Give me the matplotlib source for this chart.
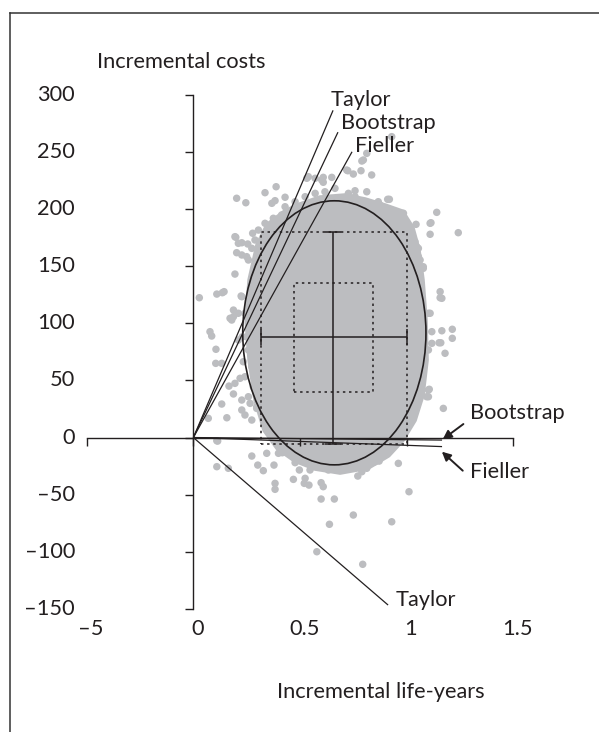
import matplotlib
matplotlib.use("Agg")
import matplotlib.pyplot as plt
from matplotlib.patches import Ellipse, Polygon, Rectangle
from matplotlib.lines import Line2D

plt.rcParams['font.family'] = ['Lato', 'DejaVu Sans']

# ---- axis ticks -------------------------------------------------------
x_ticks = [-0.5, 0, 0.5, 1, 1.5]
x_tick_labels = ["–5", "0", "0.5", "1", "1.5"]
y_ticks = [-150, -100, -50, 0, 50, 100, 150, 200, 250, 300]
y_tick_labels = ["–150", "–100", "–50", "0", "50", "100", "150", "200", "250", "300"]

# ---- bootstrap replicates (incremental life-years, incremental costs) --
# replicates scattered around the edge of the cloud
rep_effects = [
    0.110, 0.110, 0.164, 0.274, 0.302, 0.328, 0.378, 0.344, 0.417, 0.383,
    0.383, 0.469, 0.477, 0.524, 0.520, 0.542, 0.599, 0.609, 0.599, 0.661,
    0.750, 0.638, 0.930, 1.011, 0.961, 0.852, 0.871, 0.813, 0.771, 0.579,
    0.794, 0.497, 0.547, 0.633, 0.688, 0.735, 0.790,
    1.102, 1.165, 1.214, 1.214, 1.118, 1.152, 1.180, 1.102, 1.055, 1.047,
    1.102, 1.102, 1.172, 1.063, 1.141, 1.110, 1.110, 1.044, 0.985, 0.919,
    0.914, 0.875, 1.157, 1.157, 1.160, 1.118, 1.110, 1.106, 1.094, 1.063,
    1.078, 1.047, 1.055, 1.242, 1.039, 1.055, 1.063, 1.078, 1.165, 1.114,
    0.790, 0.836, 0.786, 0.750, 0.724, 0.649, 0.609, 0.571, 0.532, 0.336,
    0.388, 0.430, 0.383, 0.368, 0.203, 0.246, 0.813, 0.758, 0.867, 0.911,
    0.930, 0.797, 0.813, 0.719, 0.602, 0.539, 0.609, 0.195,
    0.028, 0.110, 0.144, 0.078, 0.086, 0.106, 0.105, 0.133, 0.157, 0.070,
    0.114, 0.188, 0.172, 0.227, 0.211, 0.227, 0.195, 0.199, 0.227, 0.255,
    0.278, 0.203, 0.258, 0.136, 0.224, 0.188, 0.211, 0.258, 0.133, 0.219,
    0.242, 0.274, 0.227, 0.266, 0.188, 0.297, 0.167, 0.229,
    # halo just outside the dense centre
    0.617, 0.664, 0.727, 0.758, 0.790, 0.836, 0.883, 0.571, 0.524, 0.477,
    0.430, 0.414, 0.375, 0.336, 0.805, 0.852, 0.914, 0.954, 0.977, 0.305,
    0.289, 0.274, 0.250, 1.008, 1.024, 1.039,
    0.242, 0.274, 0.250, 0.266, 0.234, 0.274, 0.242, 0.281, 0.258, 0.297,
    0.227, 0.195, 0.211, 0.180,
    1.039, 1.055, 1.071, 1.039, 1.063, 1.031, 1.039, 1.016, 0.977,
    0.477, 0.524, 0.571, 0.633, 0.696, 0.758, 0.820, 0.883, 0.430, 0.399,
]
rep_costs = [
    -2.8, -25.5, -26.9, -16.2, -24.1, -29.0, -24.1, -13.8, -13.3, -40.1,
    -45.3, -36.6, -22.0, -35.7, -40.1, -41.6, -39.5, -43.0, -53.8, -53.8,
    -67.8, -75.9, -73.7, -47.4, -22.6, -21.2, -20.6, -26.9, -33.7, -99.9,
    -110.9, -28.4, -28.4, -28.4, -26.9, -25.5, -29.9,
    108.7, 93.4, 94.7, 86.8, 82.4, 82.9, 73.7, 76.6, 69.3, 61.9,
    41.6, 35.7, 25.5, 50.3, 197.0, 187.4, 177.8, 186.5, 196.2, 208.4,
    198.4, 203.4, 127.6, 122.3, 82.9, 92.6, 108.7, 42.2, 35.7, 134.9,
    149.4, 166.9, 158.2, 179.2, 171.3, 165.5, 155.3, 148.0, 121.8, 187.9,
    241.9, 229.7, 233.4, 230.5, 233.4, 227.6, 227.6, 226.8, 226.8, 214.2,
    219.4, 210.2, 207.2, 204.9, 209.3, 205.4, 215.0, 215.9, 206.3, 208.4,
    263.2, 242.8, 248.6, 234.0, 225.3, 228.2, 223.3, 175.7,
    122.3, 125.5, 127.6, 92.6, 88.8, 77.2, 64.9, 29.3, 17.3, 16.8,
    -3.1, 111.5, 104.3, 123.2, 169.9, 159.7, 143.0, 175.2, 170.4, 169.3,
    178.7, 161.7, 155.3, 126.7, 123.8, 105.7, 108.7, 76.6, 64.9, 51.8,
    19.7, 15.3, 24.1, 29.9, 38.1, 25.5, 45.0, 88.0,
    215.0, 218.0, 213.6, 210.7, 204.9, 201.9, 199.0, 213.6, 210.7, 206.3,
    201.9, 194.7, 191.8, 187.4, 193.2, 191.8, 190.3, 187.4, 184.4, 181.5,
    172.8, 165.5, 158.2, 175.7, 166.9, 158.2,
    108.7, 99.9, 88.2, 76.6, 66.3, 61.9, 53.2, 44.4, 35.7, 26.9,
    32.8, 47.4, 85.3, 102.8,
    111.5, 102.8, 91.2, 82.4, 70.7, 59.1, 47.4, 32.8, 21.2,
    -10.9, -16.8, -10.9, -18.2, -13.8, -18.2, -13.8, -9.4, -8.0, -13.8,
]

# outline of the dense centre of the cloud, where replicates overlap
core_effects = [0.303, 0.350, 0.430, 0.500, 0.594, 0.711, 0.805, 0.899,
                0.978, 1.025, 1.053, 1.072, 1.086, 1.091, 1.072, 1.035,
                0.978, 0.913, 0.819, 0.688, 0.571, 0.477, 0.397, 0.336,
                0.294, 0.266, 0.252, 0.266]
core_costs = [168.4, 185.9, 197.3, 203.4, 209.5, 211.3, 207.8, 202.5,
              197.3, 183.3, 164.0, 137.8, 102.8, 67.8, 37.2, 15.3,
              -2.2, -15.3, -25.8, -30.2, -26.7, -19.7, -9.2, 6.6,
              32.8, 67.8, 102.8, 137.8]

# ---- summary statistics -------------------------------------------------
mean_effect = 0.656
mean_cost = 88.2
effect_ci = [0.316, 1.000]
cost_ci = [-6.0, 180.0]
effect_inner = [0.473, 0.841]
cost_inner = [39.5, 135.4]
ellipse_center = [0.661, 91.6]
ellipse_size = [0.859, 231.0]

# ---- confidence limits of the cost-effectiveness ratio ------------------
methods = ["Taylor", "Bootstrap", "Fieller"]
upper_ratio = [437.0, 394.0, 336.0]
upper_end = [0.655, 0.678, 0.744]
lower_ratio = [-160.5, -1.9, -6.8]
lower_end = [0.913, 1.166, 1.166]

DOT = '#bcbdc0'
INK = '#231f20'
FS = 15.7

fig = plt.figure(figsize=(5.99, 7.32), dpi=100)
W, H = 599, 732
ax = fig.add_axes([86.7 / W, 1 - 609 / H, 426.6 / W, (609 - 94.6) / H])
ax.set_xlim(-0.5, 1.5)
ax.set_ylim(-150, 300)
ax.patch.set_alpha(0)

# cloud of replicates
ax.add_patch(Polygon(list(zip(core_effects, core_costs)), closed=True,
                     facecolor=DOT, edgecolor=DOT, lw=4, joinstyle='round',
                     zorder=1))
ax.scatter(rep_effects, rep_costs, s=29, color=DOT, edgecolors='none',
           zorder=1, clip_on=False)

# confidence ellipse
ax.add_patch(Ellipse(ellipse_center, ellipse_size[0], ellipse_size[1],
                     fill=False, edgecolor=INK, lw=1.2, zorder=3))

# dotted boxes
for (x0, x1), (y0, y1) in [(effect_ci, cost_ci), (effect_inner, cost_inner)]:
    ax.add_patch(Rectangle((x0, y0), x1 - x0, y1 - y0, fill=False,
                           edgecolor=INK, lw=1.1, linestyle=(0, (1.6, 2.4)),
                           zorder=3))

# cross of the individual intervals
ax.errorbar([mean_effect], [mean_cost],
            xerr=[[mean_effect - effect_ci[0]], [effect_ci[1] - mean_effect]],
            yerr=[[mean_cost - cost_ci[0]], [cost_ci[1] - mean_cost]],
            fmt='none', ecolor=INK, elinewidth=1.1, capsize=6, capthick=1.1,
            zorder=4)

# rays through the origin for the ratio limits
for r, xe in zip(upper_ratio + lower_ratio, upper_end + lower_end):
    ax.plot([0, xe], [0, r * xe], color=INK, lw=0.9, zorder=4,
            solid_capstyle='butt', clip_on=False)

# labels of the rays
ax.text(0.644, 295.3, "Taylor", fontsize=FS, color=INK, ha='left', va='center')
ax.text(0.691, 275.4, "Bootstrap", fontsize=FS, color=INK, ha='left', va='center')
ax.text(0.758, 255.3, "Fieller", fontsize=FS, color=INK, ha='left', va='center')
ax.text(1.297, 21.4, "Bootstrap", fontsize=FS, color=INK, ha='left', va='center',
        clip_on=False)
ax.text(1.297, -30.2, "Fieller", fontsize=FS, color=INK, ha='left', va='center',
        clip_on=False)
ax.text(0.946, -142.2, "Taylor", fontsize=FS, color=INK, ha='left', va='center')

arrow = dict(arrowstyle='-|>', color=INK, lw=1.4, mutation_scale=13,
             shrinkA=0, shrinkB=0)
ax.annotate("", xy=(1.169, -1.6), xytext=(1.266, 11.8), arrowprops=arrow,
            annotation_clip=False)
ax.annotate("", xy=(1.165, -12.4), xytext=(1.263, -29.0), arrowprops=arrow,
            annotation_clip=False)

# axes crossing at the origin
for side in ('top', 'right'):
    ax.spines[side].set_visible(False)
ax.spines['left'].set_position(('data', 0))
ax.spines['bottom'].set_position(('data', 0))
ax.spines['left'].set_bounds(-150, 300)
ax.spines['bottom'].set_bounds(-0.5, 1.5)
for side in ('left', 'bottom'):
    ax.spines[side].set_linewidth(1.0)
    ax.spines[side].set_color(INK)
    ax.spines[side].set_zorder(5)
ax.set_xticks(x_ticks)
ax.set_yticks(y_ticks)
ax.tick_params(axis='both', direction='out', length=5.8, width=1.0,
               color=INK, labelbottom=False, labelleft=False)

# tick labels sit at the outer edge of the plot
for v, lab in zip(y_ticks, y_tick_labels):
    ax.text(-0.555, v, lab, fontsize=FS, color=INK, ha='right', va='center',
            clip_on=False)
for v, lab in zip(x_ticks, x_tick_labels):
    ax.text(v + 0.02, -167.5, lab, fontsize=FS, color=INK, ha='center',
            va='center', clip_on=False)

fig.text(97 / W, 1 - 62 / H, "Incremental costs", fontsize=FS, color=INK,
         ha='left', va='center')
fig.text(381 / W, 1 - 692 / H, "Incremental life-years", fontsize=FS,
         color=INK, ha='center', va='center')

# frame lines
fx, fy = 10 / W, 1 - 13 / H
fig.add_artist(Line2D([fx, fx], [0, fy], transform=fig.transFigure,
                      color='#333333', lw=1.1))
fig.add_artist(Line2D([fx, 1], [fy, fy], transform=fig.transFigure,
                      color='#333333', lw=1.1))

fig.savefig("out.png", dpi=100)
